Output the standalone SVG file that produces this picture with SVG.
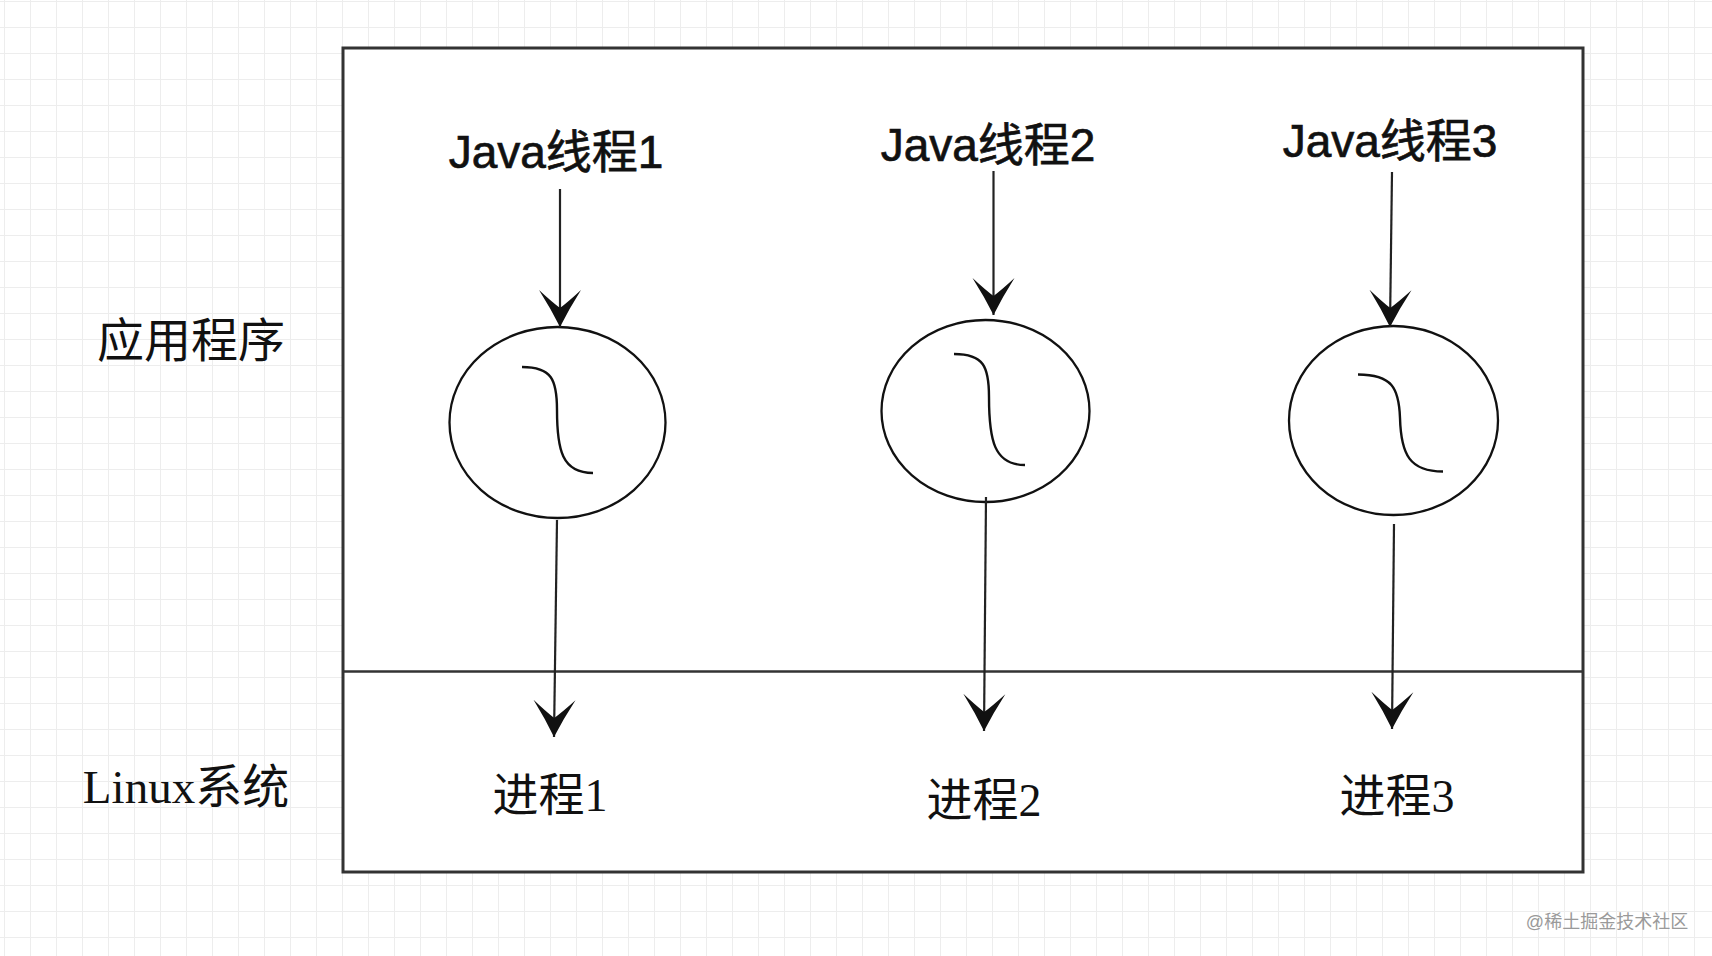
<svg xmlns="http://www.w3.org/2000/svg" width="1712" height="956" viewBox="0 0 1712 956">
  <style>
    .sans { font-family: "Liberation Sans", "Noto Sans CJK SC", sans-serif; fill: #111; stroke: #111; stroke-width: 0.7; }
    .serif { font-family: "Liberation Serif", "Noto Sans CJK SC", serif; fill: #111; }
    .edge { stroke: #222; stroke-width: 2.2; fill: none; }
    .thread { fill: #fff; stroke: #111; stroke-width: 2.3; }
    .wave { fill: none; stroke: #111; stroke-width: 2.4; }
  </style>
  <defs>
    <pattern id="grid" x="4" y="1" width="26" height="26" patternUnits="userSpaceOnUse">
      <path d="M0,0 H26 M0,0 V26" stroke="#ededed" stroke-width="2" fill="none"/>
    </pattern>
    <marker id="arrow" markerUnits="userSpaceOnUse" viewBox="-40 -24 44 48" refX="0" refY="0" markerWidth="44" markerHeight="48" orient="auto">
      <path d="M0,0 Q-18,-9 -37,-21 Q-25,-8 -19,0 Q-25,8 -37,21 Q-18,9 0,0 Z" fill="#111"/>
    </marker>
  </defs>

  <rect width="1712" height="956" fill="#fff"/>
  <rect width="1712" height="956" fill="url(#grid)"/>

  <g id="container">
    <rect x="343" y="48" width="1240" height="824" fill="#fff" stroke="#333" stroke-width="3"/>
    <line x1="343" y1="671.5" x2="1583" y2="671.5" stroke="#333" stroke-width="2.5"/>
  </g>

  <g id="label-app">
    <text class="serif" x="191" y="357" font-size="47" text-anchor="middle">应用程序</text>
  </g>
  <g id="label-linux">
    <text class="serif" x="186" y="803" font-size="47" text-anchor="middle">Linux系统</text>
  </g>

  <g id="java-thread-1">
    <text class="sans" x="556" y="168" font-size="46" text-anchor="middle">Java线程1</text>
  </g>
  <g id="java-thread-2">
    <text class="sans" x="988" y="161" font-size="46" text-anchor="middle">Java线程2</text>
  </g>
  <g id="java-thread-3">
    <text class="sans" x="1390" y="157" font-size="46" text-anchor="middle">Java线程3</text>
  </g>

  <g id="thread-circle-1">
    <ellipse class="thread" cx="557.5" cy="422.5" rx="108" ry="95.5"/>
    <path class="wave" d="M522,367 C552,367 557,380 557,410 C557,450 562,473 593,473"/>
  </g>
  <g id="thread-circle-2">
    <ellipse class="thread" cx="985.5" cy="411" rx="104" ry="91"/>
    <path class="wave" d="M954,354 C984,354 989,367 989,397 C989,440 994,465 1025,465"/>
  </g>
  <g id="thread-circle-3">
    <ellipse class="thread" cx="1393.5" cy="420.5" rx="104.5" ry="94.5"/>
    <path class="wave" d="M1358,374.5 C1392,374.5 1399,388 1400,418 C1401,455 1410,471.5 1443,471.5"/>
  </g>

  <g id="process-1">
    <text class="serif" x="550" y="811" font-size="46" text-anchor="middle">进程1</text>
  </g>
  <g id="process-2">
    <text class="serif" x="984" y="816" font-size="46" text-anchor="middle">进程2</text>
  </g>
  <g id="process-3">
    <text class="serif" x="1397" y="812" font-size="46" text-anchor="middle">进程3</text>
  </g>

  <g id="connectors">
    <line class="edge" x1="560" y1="189" x2="560" y2="327" marker-end="url(#arrow)"/>
    <line class="edge" x1="557" y1="520" x2="554" y2="737" marker-end="url(#arrow)"/>
    <line class="edge" x1="993.5" y1="171" x2="993.5" y2="315" marker-end="url(#arrow)"/>
    <line class="edge" x1="986" y1="497" x2="984" y2="731" marker-end="url(#arrow)"/>
    <line class="edge" x1="1392" y1="172" x2="1390" y2="327" marker-end="url(#arrow)"/>
    <line class="edge" x1="1394" y1="524" x2="1392" y2="729" marker-end="url(#arrow)"/>
  </g>

  <g id="watermark">
    <text x="1607" y="928" font-size="18" text-anchor="middle" fill="#9a9a9a" font-family="'Liberation Sans', 'Noto Sans CJK SC', sans-serif">@稀土掘金技术社区</text>
  </g>
</svg>
